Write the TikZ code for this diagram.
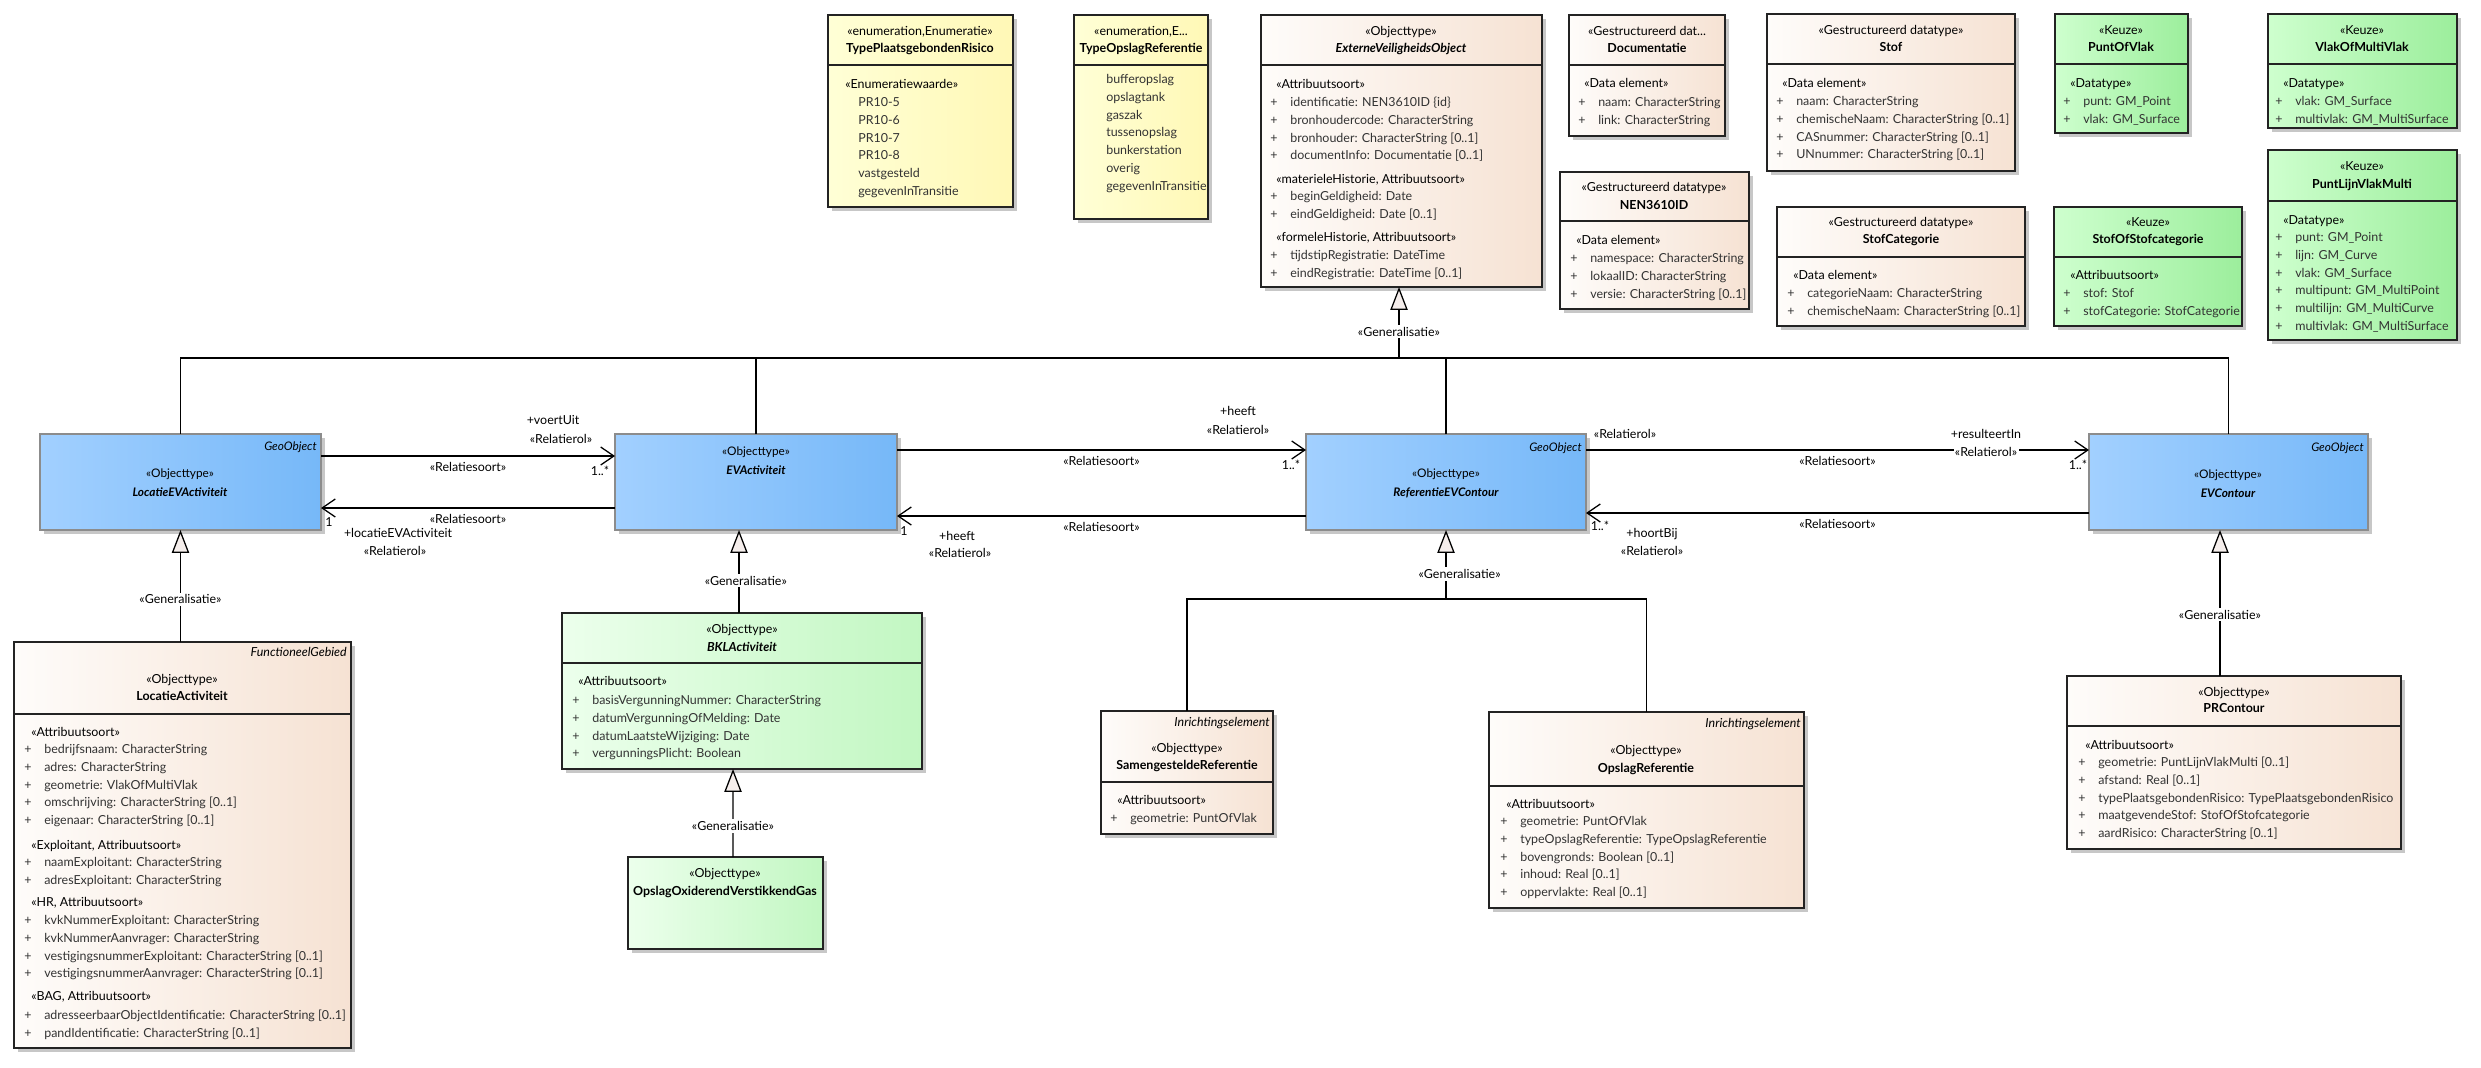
\documentclass[tikz,border=0pt]{standalone}
\usepackage{fontspec}
\setmainfont{Lato}
\usepackage{tikz}
\usetikzlibrary{positioning,arrows.meta,fit,calc,shadows}
\definecolor{klsline}{RGB}{35,35,35}
\definecolor{enumL}{RGB}{255,255,214}
\definecolor{enumR}{RGB}{255,248,182}
\definecolor{crL}{RGB}{254,252,250}
\definecolor{crR}{RGB}{246,226,211}
\definecolor{blL}{RGB}{162,208,255}
\definecolor{blR}{RGB}{118,184,248}
\definecolor{kzL}{RGB}{206,255,206}
\definecolor{kzR}{RGB}{156,238,156}
\definecolor{grL}{RGB}{236,255,236}
\definecolor{grR}{RGB}{194,247,194}
\definecolor{genfill}{RGB}{245,238,236}

\begin{document}
\begin{tikzpicture}[x=0.025cm, y=-0.025cm, font=\fontsize{8.85pt}{11pt}\selectfont,
  kls/.style={draw=klsline, line width=1.1pt, inner sep=0pt, outer sep=0pt,
    drop shadow={shadow xshift=0.1cm, shadow yshift=-0.1cm, fill=black!22, opacity=1}},
  enumkls/.style={kls, left color=enumL, right color=enumR},
  crkls/.style={kls, left color=crL, right color=crR},
  blkls/.style={kls, draw=black!45, left color=blL, right color=blR},
  kzkls/.style={kls, left color=kzL, right color=kzR},
  grkls/.style={kls, left color=grL, right color=grR},
  txt/.style={inner sep=0pt, anchor=mid},
  bltxt/.style={txt, font=\fontsize{8.4pt}{10pt}\selectfont},
  st/.style={inner sep=0pt, anchor=mid west},
  lft/.style={st, text=black!80},
  rol/.style={inner sep=0pt, anchor=mid},
  verb/.style={line width=0.9pt},
  assoc/.style={verb, -{Straight Barb[length=0.33cm, width=0.45cm]}},
  gen/.style={verb, -{Triangle[length=0.57cm, width=0.43cm, fill=genfill]}},
  genlbl/.style={fill=white, inner sep=1.5pt},
  soort/.style={midway, anchor=mid, yshift=-0.31cm, inner sep=0pt}]
\path[use as bounding box, fill=white] (0,0) rectangle (2481,1067);
\newcommand{\klasse}[4]{\node[#2, fit={#3 #4}] (#1) {};}
\newcommand{\scheid}[2]{\draw[klsline, line width=1.1pt] ($(#1.north west)+(0,#2)$) -- ($(#1.north east)+(0,#2)$);}
\newcommand{\kop}[6]{\node[txt] (#1s) at (#2,#3) {#5}; \node[txt] (#1n) at (#2,#4) {#6};}
\newcommand{\attrs}[4]{\foreach \a [count=\i from 0] in {#4}{
  \node[lft] (#1p\i) at (#2,{#3+17.8*\i}) {+};
  \node[lft] (#1a\i) at (#2+20,{#3+17.8*\i}) {\a};}}
\newcommand{\waarden}[4]{\foreach \a [count=\i from 0] in {#4}{
  \node[lft] (#1v\i) at (#2,{#3+17.8*\i}) {\a};}}

\klasse{tpr}{enumkls}{(828,15)}{(1013,207)}
\scheid{tpr}{50}
\kop{tpr}{920}{32}{49}{«enumeration,Enumeratie»}{\bfseries TypePlaatsgebondenRisico}
\node[st] (tprs1) at (845,85) {«Enumeratiewaarde»};
\waarden{tpr}{858}{103}{PR10-5,PR10-6,PR10-7,PR10-8,vastgesteld,gegevenInTransitie}

\klasse{tor}{enumkls}{(1074,15)}{(1208,219)}
\scheid{tor}{50}
\kop{tor}{1141}{32}{49}{«enumeration,E...}{\bfseries TypeOpslagReferentie}
\waarden{tor}{1106}{80}{bufferopslag,opslagtank,gaszak,tussenopslag,bunkerstation,overig,gegevenInTransitie}

\klasse{evo}{crkls}{(1261,15)}{(1542,287)}
\scheid{evo}{50}
\kop{evo}{1401}{32}{49}{«Objecttype»}{\bfseries\itshape ExterneVeiligheidsObject}
\node[st] (evos1) at (1276,85) {«Attribuutsoort»};
\attrs{evoA}{1270}{103}{identificatie: NEN3610ID \{id\},bronhoudercode: CharacterString,bronhouder: CharacterString [0..1],documentInfo: Documentatie [0..1]}
\node[st] (evos2) at (1276,180) {«materieleHistorie, Attribuutsoort»};
\attrs{evoB}{1270}{197}{beginGeldigheid: Date,eindGeldigheid: Date [0..1]}
\node[st] (evos3) at (1276,238) {«formeleHistorie, Attribuutsoort»};
\attrs{evoC}{1270}{256}{tijdstipRegistratie: DateTime,eindRegistratie: DateTime [0..1]}

\klasse{doc}{crkls}{(1569,15)}{(1725,136)}
\scheid{doc}{50}
\kop{doc}{1647}{32}{49}{«Gestructureerd dat...}{\bfseries Documentatie}
\node[st] (docs1) at (1584,84) {«Data element»};
\attrs{doc}{1578}{103}{naam: CharacterString,link: CharacterString}

\klasse{stof}{crkls}{(1767,14)}{(2015,171)}
\scheid{stof}{50}
\kop{stof}{1891}{31}{48}{«Gestructureerd datatype»}{\bfseries Stof}
\node[st] (stofs1) at (1782,84) {«Data element»};
\attrs{stof}{1776}{102}{naam: CharacterString,chemischeNaam: CharacterString [0..1],CASnummer: CharacterString [0..1],UNnummer: CharacterString [0..1]}

\klasse{pov}{kzkls}{(2055,14)}{(2188,133)}
\scheid{pov}{50}
\kop{pov}{2121}{31}{48}{«Keuze»}{\bfseries PuntOfVlak}
\node[st] (povs1) at (2070,84) {«Datatype»};
\attrs{pov}{2063}{102}{punt: GM\_Point,vlak: GM\_Surface}

\klasse{vomv}{kzkls}{(2268,14)}{(2457,128)}
\scheid{vomv}{50}
\kop{vomv}{2362}{31}{48}{«Keuze»}{\bfseries VlakOfMultiVlak}
\node[st] (vomvs1) at (2283,84) {«Datatype»};
\attrs{vomv}{2275}{102}{vlak: GM\_Surface,multivlak: GM\_MultiSurface}

\klasse{nen}{crkls}{(1560,172)}{(1749,309)}
\scheid{nen}{49}
\kop{nen}{1654}{188}{206}{«Gestructureerd datatype»}{\bfseries NEN3610ID}
\node[st] (nens1) at (1576,241) {«Data element»};
\attrs{nen}{1570}{259}{namespace: CharacterString,lokaalID: CharacterString,versie: CharacterString [0..1]}

\klasse{stc}{crkls}{(1777,207)}{(2025,326)}
\scheid{stc}{50}
\kop{stc}{1901}{223}{240}{«Gestructureerd datatype»}{\bfseries StofCategorie}
\node[st] (stcs1) at (1793,276) {«Data element»};
\attrs{stc}{1787}{294}{categorieNaam: CharacterString,chemischeNaam: CharacterString [0..1]}

\klasse{sosc}{kzkls}{(2054,207)}{(2242,326)}
\scheid{sosc}{50}
\kop{sosc}{2148}{223}{240}{«Keuze»}{\bfseries StofOfStofcategorie}
\node[st] (soscs1) at (2070,276) {«Attribuutsoort»};
\attrs{sosc}{2063}{294}{stof: Stof,stofCategorie: StofCategorie}

\klasse{plvm}{kzkls}{(2268,150)}{(2457,340)}
\scheid{plvm}{51}
\kop{plvm}{2362}{167}{185}{«Keuze»}{\bfseries PuntLijnVlakMulti}
\node[st] (plvms1) at (2283,221) {«Datatype»};
\attrs{plvm}{2275}{238}{punt: GM\_Point,lijn: GM\_Curve,vlak: GM\_Surface,multipunt: GM\_MultiPoint,multilijn: GM\_MultiCurve,multivlak: GM\_MultiSurface}

\klasse{levact}{blkls}{(40,434)}{(321,530)}
\node[bltxt, anchor=mid east] (levactg) at (317,447) {\itshape GeoObject};
\node[bltxt] (levacts) at (180,474) {«Objecttype»};
\node[bltxt] (levactn) at (180,493) {\bfseries\itshape LocatieEVActiviteit};
\klasse{evact}{blkls}{(615,434)}{(897,530)}
\node[bltxt] (evacts) at (756,452) {«Objecttype»};
\node[bltxt] (evactn) at (756,471) {\bfseries\itshape EVActiviteit};
\klasse{refc}{blkls}{(1306,434)}{(1586,530)}
\node[bltxt, anchor=mid east] (refcg) at (1582,448) {\itshape GeoObject};
\node[bltxt] (refcs) at (1446,474) {«Objecttype»};
\node[bltxt] (refcn) at (1446,493) {\bfseries\itshape ReferentieEVContour};
\klasse{evc}{blkls}{(2089,434)}{(2368,530)}
\node[bltxt, anchor=mid east] (evcg) at (2364,448) {\itshape GeoObject};
\node[bltxt] (evcs) at (2228,475) {«Objecttype»};
\node[bltxt] (evcn) at (2228,494) {\bfseries\itshape EVContour};

\klasse{locact}{crkls}{(14,642)}{(351,1048)}
\scheid{locact}{72}
\node[txt, anchor=mid east] (locactg) at (347,653) {\itshape FunctioneelGebied};
\kop{locact}{182}{680}{697}{«Objecttype»}{\bfseries LocatieActiviteit}
\node[st] (locacts1) at (31,733) {«Attribuutsoort»};
\attrs{locactA}{24}{750}{bedrijfsnaam: CharacterString,adres: CharacterString,geometrie: VlakOfMultiVlak,omschrijving: CharacterString [0..1],eigenaar: CharacterString [0..1]}
\node[st] (locacts2) at (31,846) {«Exploitant, Attribuutsoort»};
\attrs{locactB}{24}{863}{naamExploitant: CharacterString,adresExploitant: CharacterString}
\node[st] (locacts3) at (31,903) {«HR, Attribuutsoort»};
\attrs{locactC}{24}{921}{kvkNummerExploitant: CharacterString,kvkNummerAanvrager: CharacterString,vestigingsnummerExploitant: CharacterString [0..1],vestigingsnummerAanvrager: CharacterString [0..1]}
\node[st] (locacts4) at (31,997) {«BAG, Attribuutsoort»};
\attrs{locactD}{24}{1016}{adresseerbaarObjectIdentificatie: CharacterString [0..1],pandIdentificatie: CharacterString [0..1]}

\klasse{bkl}{grkls}{(562,613)}{(922,769)}
\scheid{bkl}{50}
\kop{bkl}{742}{630}{648}{«Objecttype»}{\bfseries\itshape BKLActiviteit}
\node[st] (bkls1) at (578,682) {«Attribuutsoort»};
\attrs{bkl}{572}{701}{basisVergunningNummer: CharacterString,datumVergunningOfMelding: Date,datumLaatsteWijziging: Date,vergunningsPlicht: Boolean}

\klasse{oovg}{grkls}{(628,857)}{(823,949)}
\kop{oovg}{725}{874}{892}{«Objecttype»}{\bfseries OpslagOxiderendVerstikkendGas}

\klasse{samref}{crkls}{(1101,711)}{(1273,834)}
\scheid{samref}{71}
\node[txt, anchor=mid east] (samrefg) at (1270,723) {\itshape Inrichtingselement};
\kop{samref}{1187}{749}{766}{«Objecttype»}{\bfseries SamengesteldeReferentie}
\node[st] (samrefs1) at (1117,801) {«Attribuutsoort»};
\attrs{samref}{1110}{819}{geometrie: PuntOfVlak}

\klasse{opsref}{crkls}{(1489,712)}{(1804,908)}
\scheid{opsref}{74}
\node[txt, anchor=mid east] (opsrefg) at (1801,724) {\itshape Inrichtingselement};
\kop{opsref}{1646}{751}{769}{«Objecttype»}{\bfseries OpslagReferentie}
\node[st] (opsrefs1) at (1506,805) {«Attribuutsoort»};
\attrs{opsref}{1500}{822}{geometrie: PuntOfVlak,typeOpslagReferentie: TypeOpslagReferentie,bovengronds: Boolean [0..1],inhoud: Real [0..1],oppervlakte: Real [0..1]}

\klasse{prc}{crkls}{(2067,676)}{(2401,849)}
\scheid{prc}{50}
\kop{prc}{2234}{693}{709}{«Objecttype»}{\bfseries PRContour}
\node[st] (prcs1) at (2085,746) {«Attribuutsoort»};
\attrs{prc}{2078}{763}{geometrie: PuntLijnVlakMulti [0..1],afstand: Real [0..1],typePlaatsgebondenRisico: TypePlaatsgebondenRisico,maatgevendeStof: StofOfStofcategorie,aardRisico: CharacterString [0..1]}

\coordinate (evobus) at (1399,358);
\foreach \k in {levact,evact,refc,evc}{\draw[verb] (\k.north) |- (evobus);}
\draw[gen] (evobus) -- (evobus |- evo.south) node[genlbl, pos=0.37] (evogl) {«Generalisatie»};
\draw[gen] (levact.south |- locact.north) -- (levact.south) node[genlbl, pos=0.38] (levgl) {«Generalisatie»};
\draw[gen] ($(bkl.north)+(-3,0)$) -- ($(evact.south)+(-17,0)$) node[genlbl, pos=0.39, xshift=0.17cm] (evgl) {«Generalisatie»};
\draw[gen] ($(oovg.north)+(7.5,0)$) -- ($(bkl.south)+(-9,0)$) node[genlbl, pos=0.35] (bklgl) {«Generalisatie»};
\coordinate (refbus) at (1446,599);
\draw[verb] (samref.north) |- (refbus) -| (opsref.north);
\draw[gen] (refbus) -- (refc.south) node[genlbl, pos=0.36, xshift=0.34cm] (refgl) {«Generalisatie»};
\draw[gen] ($(prc.north)+(-14,0)$) -- ($(evc.south)+(-8.5,0)$) node[genlbl, pos=0.42] (evcgl) {«Generalisatie»};

\draw[assoc] ($(levact.north east)+(0,22)$) -- ($(evact.north west)+(0,22)$) node[soort] (a1s) {«Relatiesoort»};
\draw[assoc] ($(evact.north west)+(0,74)$) -- ($(levact.north east)+(0,74)$) node[soort] (a2s) {«Relatiesoort»};
\draw[assoc] ($(evact.north east)+(0,16)$) -- ($(refc.north west)+(0,16)$) node[soort] (a3s) {«Relatiesoort»};
\draw[assoc] ($(refc.north west)+(0,82)$) -- ($(evact.north east)+(0,82)$) node[soort] (a4s) {«Relatiesoort»};
\draw[assoc] ($(refc.north east)+(0,16)$) -- ($(evc.north west)+(0,16)$) node[soort] (a5s) {«Relatiesoort»};
\draw[assoc] ($(evc.north west)+(0,79)$) -- ($(refc.north east)+(0,79)$) node[soort] (a6s) {«Relatiesoort»};

\node[rol] (a1r) at (553,421) {+voertUit};
\node[rol] (a1q) at (561,440) {«Relatierol»};
\node[rol] (a1m) at (600,472) {1..*};
\node[rol] (a2r) at (398,534) {+locatieEVActiviteit};
\node[rol] (a2q) at (395,552) {«Relatierol»};
\node[rol] (a2m) at (329,523) {1};
\node[rol] (a3r) at (1238,412) {+heeft};
\node[rol] (a3q) at (1238,431) {«Relatierol»};
\node[rol] (a3m) at (1291,466) {1..*};
\node[rol] (a4r) at (957,537) {+heeft};
\node[rol] (a4q) at (960,554) {«Relatierol»};
\node[rol] (a4m) at (904,532) {1};
\node[rol] (a5p) at (1625,435) {«Relatierol»};
\node[rol] (a5r) at (1986,435) {+resulteertIn};
\node[rol, fill=white, inner sep=1pt] (a5q) at (1986,453) {«Relatierol»};
\node[rol] (a5m) at (2078,466) {1..*};
\node[rol] (a6r) at (1652,534) {+hoortBij};
\node[rol] (a6q) at (1652,552) {«Relatierol»};
\node[rol] (a6m) at (1600,527) {1..*};
\end{tikzpicture}
\end{document}
